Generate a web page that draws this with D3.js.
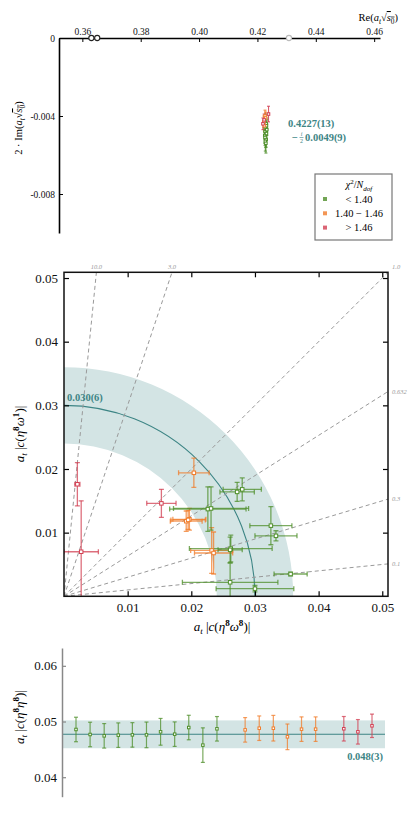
<!DOCTYPE html>
<html>
<head>
<meta charset="utf-8">
<script src="https://cdn.jsdelivr.net/npm/d3@7"></script>
<style>
body { margin: 0; background: #fff; }
svg text { font-family: "Liberation Serif", "Times New Roman", "DejaVu Serif", serif; }
</style>
</head>
<body>
<svg id="chart" width="416" height="816" font-family="Liberation Serif"></svg>
<script>
// ---- data ----
// fit quality class: 0 = chi2/Ndof < 1.40, 1 = 1.40-1.46, 2 = > 1.46
var legendLabels = ["< 1.40", "1.40 \u2212 1.46", "> 1.46"];

// top panel: pole positions a_t sqrt(s0)
var poleRe    = [0.4228, 0.4230, 0.4227, 0.4231, 0.4226, 0.4229, 0.4232, 0.4225, 0.4228, 0.4230, 0.4227, 0.4229, 0.4226, 0.4231, 0.4226, 0.4222, 0.4224, 0.4228, 0.4238, 0.4219, 0.4223];
var poleIm    = [-0.0042, -0.0044, -0.0046, -0.0045, -0.0048, -0.0049, -0.0047, -0.0050, -0.0051, -0.0052, -0.0053, -0.0054, -0.0051, -0.0049, -0.0040, -0.0043, -0.0045, -0.0041, -0.0039, -0.0044, -0.0042];
var poleReErr = [0.0002, 0.0003, 0.0002, 0.0003, 0.0003, 0.0002, 0.0003, 0.0003, 0.0002, 0.0003, 0.0003, 0.0002, 0.0003, 0.0002, 0.0002, 0.0002, 0.0003, 0.0002, 0.0003, 0.0002, 0.0002];
var poleImErr = [0.0003, 0.0003, 0.0004, 0.0003, 0.0004, 0.0004, 0.0003, 0.0004, 0.0005, 0.0004, 0.0005, 0.0005, 0.0004, 0.0003, 0.0003, 0.0003, 0.0003, 0.0003, 0.0004, 0.0003, 0.0003];
var poleClass = [0, 0, 0, 0, 0, 0, 0, 0, 0, 0, 0, 0, 0, 0, 1, 1, 1, 1, 2, 2, 2];
var axisPolesDark  = [0.3631, 0.3651];
var axisPolesLight = [0.4308];
var topTicksX = [0.36, 0.38, 0.40, 0.42, 0.44, 0.46];
var topTicksY = [0, -0.004, -0.008];

// middle panel: couplings to eta8 omega8 (x) and eta8 omega1 (y)
var cOmega8    = [0.0021, 0.0027, 0.0153, 0.0204, 0.0192, 0.0197, 0.0195, 0.0232, 0.0235, 0.0226, 0.0231, 0.0272, 0.0280, 0.0325, 0.0333, 0.0262, 0.0261, 0.0261, 0.0300, 0.0356];
var cOmega1    = [0.0176, 0.0070, 0.0146, 0.0194, 0.0118, 0.0121, 0.0120, 0.0072, 0.0068, 0.0137, 0.0138, 0.0164, 0.0168, 0.0111, 0.0095, 0.0075, 0.0073, 0.0022, 0.0012, 0.0035];
var cOmega8Err = [0.0004, 0.0027, 0.0023, 0.0024, 0.0025, 0.0026, 0.0027, 0.0033, 0.0030, 0.0060, 0.0059, 0.0027, 0.0030, 0.0033, 0.0033, 0.0065, 0.0019, 0.0075, 0.0061, 0.0026];
var cOmega1Err = [0.0034, 0.0080, 0.0022, 0.0023, 0.0016, 0.0017, 0.0015, 0.0036, 0.0033, 0.0035, 0.0034, 0.0015, 0.0018, 0.0030, 0.0008, 0.0021, 0.0020, 0.0030, 0.0005, 0.0003];
var cClass     = [2, 2, 2, 1, 1, 1, 1, 1, 1, 0, 0, 0, 0, 0, 0, 0, 0, 0, 0, 0];
var rayRatios  = [10, 3, 1, 0.632, 0.3, 0.1];
var rayLabels  = ["10.0", "3.0", "1.0", "0.632", "0.3", "0.1"];
var midTicks   = [0.01, 0.02, 0.03, 0.04, 0.05];
var radiusFit  = [0.030, 0.006];

// bottom panel: coupling to eta8 eta8, one per fit
var fitIndex   = [0, 1, 2, 3, 4, 5, 6, 7, 8, 9, 10, 12, 13, 14, 15, 16, 17, 19, 20, 21];
var cEta8      = [0.04857, 0.04767, 0.04743, 0.04755, 0.0476, 0.0476, 0.04815, 0.04773, 0.04892, 0.04576, 0.04869, 0.0485, 0.0488, 0.0488, 0.04725, 0.04863, 0.04863, 0.0487, 0.04815, 0.04923];
var cEta8Err   = [0.0022, 0.0022, 0.0022, 0.0022, 0.0022, 0.0023, 0.0024, 0.0022, 0.0022, 0.0031, 0.0022, 0.0022, 0.0022, 0.0023, 0.0023, 0.0022, 0.0022, 0.0022, 0.0022, 0.0021];
var cEta8Class = [0, 0, 0, 0, 0, 0, 0, 0, 0, 0, 0, 1, 1, 1, 1, 1, 1, 2, 2, 2];
var bottomTicks = [0.04, 0.05, 0.06];
var etaFit     = [0.0477, 0.0025];

// ---- styles ----
var fitColors = ["#4f8f2b", "#f07c2a", "#d23f52"];
var teal = "#3d8585";
var bandFill = "#d3e4e4";
var serif = "Liberation Serif";

var svg = d3.select("#chart");

// small helper for labels with sub/superscripts
function mathText(sel, parts, size) {
    var shift = 0;
    parts.forEach(function (p) {
        var s = p.sub ? size * 0.25 : (p.sup ? -size * 0.38 : 0);
        var ts = sel.append("tspan").text(p.t).attr("dy", s - shift);
        if (p.sub || p.sup) ts.attr("font-size", size * 0.7);
        if (p.i) ts.attr("font-style", "italic");
        if (p.b) ts.attr("font-weight", "bold");
        if (p.o) ts.style("text-decoration", "overline");
        shift = s;
    });
}

function drawErrors(g, pts, xs, ys, cap, opts) {
    var pg = g.selectAll("g.pt").data(pts).enter().append("g")
        .attr("stroke", function (d) { return fitColors[d.c]; })
        .attr("stroke-width", opts.width)
        .attr("stroke-opacity", opts.opacity)
        .attr("fill", "none");
    pg.filter(function (d) { return d.ex > 0; }).each(function (d) {
        var e = d3.select(this);
        var x0 = xs(d.x - d.ex), x1 = xs(d.x + d.ex), yy = ys(d.y);
        e.append("line").attr("x1", x0).attr("x2", x1).attr("y1", yy).attr("y2", yy);
        e.append("line").attr("x1", x0).attr("x2", x0).attr("y1", yy - cap).attr("y2", yy + cap);
        e.append("line").attr("x1", x1).attr("x2", x1).attr("y1", yy - cap).attr("y2", yy + cap);
    });
    pg.each(function (d) {
        var e = d3.select(this);
        var y0 = ys(d.y - d.ey), y1 = ys(d.y + d.ey), xx = xs(d.x);
        e.append("line").attr("x1", xx).attr("x2", xx).attr("y1", y0).attr("y2", y1);
        e.append("line").attr("x1", xx - cap).attr("x2", xx + cap).attr("y1", y0).attr("y2", y0);
        e.append("line").attr("x1", xx - cap).attr("x2", xx + cap).attr("y1", y1).attr("y2", y1);
    });
    g.selectAll("rect.mk").data(pts).enter().append("rect")
        .attr("x", function (d) { return xs(d.x) - opts.mk / 2; })
        .attr("y", function (d) { return ys(d.y) - opts.mk / 2; })
        .attr("width", opts.mk).attr("height", opts.mk)
        .attr("fill", "#fff")
        .attr("stroke", function (d) { return fitColors[d.c]; })
        .attr("stroke-width", 1);
}

function styleAxis(g, size) {
    g.attr("font-family", serif).attr("font-size", size);
    g.selectAll("text").attr("font-family", serif).attr("fill", "#111");
}

// ================= top panel =================
var xTop = d3.scaleLinear().domain([0.352, 0.462]).range([59, 380]);
var yTop = d3.scaleLinear().domain([-0.010, 0]).range([233, 38]);

var gTopX = svg.append("g").attr("transform", "translate(0," + yTop(0) + ")")
    .call(d3.axisTop(xTop).tickValues(topTicksX).tickSize(-4).tickSizeOuter(0).tickPadding(3)
        .tickFormat(d3.format(".2f")));
var gTopY = svg.append("g").attr("transform", "translate(" + xTop.range()[0] + ",0)")
    .call(d3.axisLeft(yTop).tickValues(topTicksY).tickSize(-4).tickSizeOuter(0).tickPadding(4)
        .tickFormat(function (d) { return d === 0 ? "0" : d.toFixed(3); }));
[gTopX, gTopY].forEach(function (g) {
    styleAxis(g, 9.5);
    g.select(".domain").attr("stroke-width", 1.6);
    g.selectAll(".tick line").attr("stroke-width", 1);
});

svg.append("text").attr("x", 398).attr("y", 21).attr("text-anchor", "end").attr("font-size", 10.5)
    .call(mathText, [{ t: "Re(" }, { t: "a", i: 1 }, { t: "t", i: 1, sub: 1 }, { t: "\u221A" },
        { t: "s", i: 1, o: 1 }, { t: "0", sub: 1, o: 1 }, { t: ")" }], 10.5);
svg.append("text").attr("transform", "translate(22,128) rotate(-90)").attr("text-anchor", "middle")
    .attr("font-size", 10.5)
    .call(mathText, [{ t: "2 \u00B7 Im(" }, { t: "a", i: 1 }, { t: "t", i: 1, sub: 1 }, { t: "\u221A" },
        { t: "s", i: 1, o: 1 }, { t: "0", sub: 1, o: 1 }, { t: ")" }], 10.5);

// poles sitting on the real axis
svg.selectAll("circle.axpole").data(axisPolesDark).enter().append("circle")
    .attr("cx", function (d) { return xTop(d); }).attr("cy", yTop(0)).attr("r", 2.6)
    .attr("fill", "#fff").attr("stroke", "#222").attr("stroke-width", 1.1);
svg.selectAll("circle.axpole2").data(axisPolesLight).enter().append("circle")
    .attr("cx", function (d) { return xTop(d); }).attr("cy", yTop(0)).attr("r", 2.6)
    .attr("fill", "#fff").attr("stroke", "#bbb").attr("stroke-width", 1.1);

var polePts = poleRe.map(function (v, i) {
    return { x: v, y: poleIm[i], ex: poleReErr[i], ey: poleImErr[i], c: poleClass[i] };
});
drawErrors(svg.append("g"), polePts, xTop, yTop, 1.5, { width: 1.1, opacity: 0.85, mk: 2.5 });

svg.append("text").attr("x", 288).attr("y", 127).attr("fill", teal).attr("font-weight", "bold")
    .attr("font-size", 10.5).text("0.4227(13)");
svg.append("text").attr("x", 292).attr("y", 141).attr("fill", teal).attr("font-weight", "bold")
    .attr("font-size", 10.5).text("\u2212");
svg.append("text").attr("x", 301.5).attr("y", 136).attr("fill", teal).attr("font-size", 6)
    .attr("text-anchor", "middle").attr("font-style", "italic").text("i");
svg.append("line").attr("x1", 299.5).attr("x2", 303.5).attr("y1", 137.5).attr("y2", 137.5)
    .attr("stroke", teal).attr("stroke-width", 0.6);
svg.append("text").attr("x", 301.5).attr("y", 143).attr("fill", teal).attr("font-size", 6)
    .attr("text-anchor", "middle").text("2");
svg.append("text").attr("x", 305).attr("y", 141).attr("fill", teal).attr("font-weight", "bold")
    .attr("font-size", 10.5).text("0.0049(9)");

// legend
var lg = svg.append("g");
lg.append("rect").attr("x", 315).attr("y", 174).attr("width", 77).attr("height", 66)
    .attr("fill", "#fff").attr("stroke", "#777").attr("stroke-width", 1.2);
lg.append("text").attr("x", 359).attr("y", 188).attr("text-anchor", "middle").attr("font-size", 10)
    .call(mathText, [{ t: "\u03C7", i: 1 }, { t: "2", sup: 1 }, { t: "/" }, { t: "N", i: 1 },
        { t: "dof", i: 1, sub: 1 }], 10);
legendLabels.forEach(function (lab, i) {
    var yy = 199 + i * 14.3;
    lg.append("rect").attr("x", 323).attr("y", yy - 2).attr("width", 4).attr("height", 4)
        .attr("fill", fitColors[i]).attr("fill-opacity", 0.8);
    lg.append("text").attr("x", 359).attr("y", yy + 3.5).attr("text-anchor", "middle")
        .attr("font-size", 10.5).text(lab);
});

// ================= middle panel =================
var xMid = d3.scaleLinear().domain([0, 0.0509]).range([64, 388]);
var yMid = d3.scaleLinear().domain([0, 0.0509]).range([596.3, 272.3]);

svg.append("clipPath").attr("id", "midclip").append("rect")
    .attr("x", 64).attr("y", 272.3).attr("width", 324).attr("height", 324);
var gMid = svg.append("g").attr("clip-path", "url(#midclip)");

var ox = xMid(0), oy = yMid(0), pxPer = xMid(1) - xMid(0);
gMid.append("path").attr("transform", "translate(" + ox + "," + oy + ")")
    .attr("d", d3.arc()({ innerRadius: (radiusFit[0] - radiusFit[1]) * pxPer,
        outerRadius: (radiusFit[0] + radiusFit[1]) * pxPer, startAngle: 0, endAngle: Math.PI / 2 }))
    .attr("fill", bandFill);
gMid.append("path").attr("transform", "translate(" + ox + "," + oy + ")")
    .attr("d", d3.arc()({ innerRadius: radiusFit[0] * pxPer, outerRadius: radiusFit[0] * pxPer,
        startAngle: 0, endAngle: Math.PI / 2 }))
    .attr("fill", "none").attr("stroke", teal).attr("stroke-width", 1.1);

var xMax = xMid.domain()[1], yMax = yMid.domain()[1];
rayRatios.forEach(function (r, i) {
    var ex = r >= 1 ? yMax / r : xMax, ey = r >= 1 ? yMax : xMax * r;
    gMid.append("line").attr("x1", xMid(0)).attr("y1", yMid(0)).attr("x2", xMid(ex)).attr("y2", yMid(ey))
        .attr("stroke", "#999").attr("stroke-width", 1).attr("stroke-dasharray", "4,3");
    var t = svg.append("text").attr("font-size", 6.5).attr("font-style", "italic").attr("fill", "#999")
        .text(rayLabels[i]);
    if (r > 1) t.attr("x", xMid(ex)).attr("y", yMid(yMax) - 3).attr("text-anchor", "middle");
    else if (r === 1) t.attr("x", xMid(ex) + 4).attr("y", yMid(yMax) - 3);
    else t.attr("x", xMid(xMax) + 4).attr("y", yMid(ey) + 2);
});

var midPts = cOmega8.map(function (v, i) {
    return { x: v, y: cOmega1[i], ex: cOmega8Err[i], ey: cOmega1Err[i], c: cClass[i] };
});
drawErrors(gMid, midPts, xMid, yMid, 2.5, { width: 1.3, opacity: 0.75, mk: 3.5 });

gMid.append("text").attr("x", 67).attr("y", yMid(radiusFit[0]) - 4).attr("fill", teal)
    .attr("font-weight", "bold").attr("font-size", 10.5).text("0.030(6)");

var fmt2 = d3.format(".2f");
var axB = svg.append("g").attr("transform", "translate(0," + yMid(0) + ")")
    .call(d3.axisBottom(xMid).tickValues(midTicks).tickSize(-5).tickPadding(6).tickFormat(fmt2));
var axT = svg.append("g").attr("transform", "translate(0," + yMid(yMax) + ")")
    .call(d3.axisTop(xMid).tickValues(midTicks).tickSize(-5).tickFormat(""));
var axL = svg.append("g").attr("transform", "translate(" + xMid(0) + ",0)")
    .call(d3.axisLeft(yMid).tickValues(midTicks).tickSize(-5).tickPadding(6).tickFormat(fmt2));
var axR = svg.append("g").attr("transform", "translate(" + xMid(xMax) + ",0)")
    .call(d3.axisRight(yMid).tickValues(midTicks).tickSize(-5).tickFormat(""));
[axB, axT, axL, axR].forEach(function (g) {
    styleAxis(g, 13);
    g.select(".domain").remove();
    g.selectAll(".tick line").attr("stroke-width", 1.2);
});
svg.append("rect").attr("x", 64).attr("y", 272.3).attr("width", 324).attr("height", 324)
    .attr("fill", "none").attr("stroke", "#111").attr("stroke-width", 1.5);

svg.append("text").attr("x", 222).attr("y", 631).attr("text-anchor", "middle").attr("font-size", 13)
    .call(mathText, [{ t: "a", i: 1 }, { t: "t", i: 1, sub: 1 }, { t: " |" }, { t: "c", i: 1 }, { t: "(" },
        { t: "\u03B7", i: 1 }, { t: "8", sup: 1, b: 1 }, { t: "\u03C9", i: 1 }, { t: "8", sup: 1, b: 1 },
        { t: ")|" }], 13);
svg.append("text").attr("transform", "translate(24,434) rotate(-90)").attr("text-anchor", "middle")
    .attr("font-size", 13)
    .call(mathText, [{ t: "a", i: 1 }, { t: "t", i: 1, sub: 1 }, { t: " |" }, { t: "c", i: 1 }, { t: "(" },
        { t: "\u03B7", i: 1 }, { t: "8", sup: 1, b: 1 }, { t: "\u03C9", i: 1 }, { t: "1", sup: 1, b: 1 },
        { t: ")|" }], 13);

// ================= bottom panel =================
var xBot = d3.scaleLinear().domain([0, 21]).range([76, 372]);
var yBot = d3.scaleLinear().domain([0.0365, 0.0632]).range([796.7, 648]);

svg.append("rect").attr("x", 62).attr("width", 323)
    .attr("y", yBot(etaFit[0] + etaFit[1])).attr("height", yBot(etaFit[0] - etaFit[1]) - yBot(etaFit[0] + etaFit[1]))
    .attr("fill", bandFill);
svg.append("line").attr("x1", 62).attr("x2", 385).attr("y1", yBot(etaFit[0])).attr("y2", yBot(etaFit[0]))
    .attr("stroke", teal).attr("stroke-width", 1.1);
svg.append("text").attr("x", 383).attr("y", yBot(etaFit[0] - etaFit[1]) + 12).attr("text-anchor", "end")
    .attr("fill", teal).attr("font-weight", "bold").attr("font-size", 10.5).text("0.048(3)");

var botPts = fitIndex.map(function (v, i) {
    return { x: v, y: cEta8[i], ex: 0, ey: cEta8Err[i], c: cEta8Class[i] };
});
drawErrors(svg.append("g"), botPts, xBot, yBot, 2, { width: 1.2, opacity: 0.75, mk: 2.5 });

var axBot = svg.append("g").attr("transform", "translate(62,0)")
    .call(d3.axisLeft(yBot).tickValues(bottomTicks).tickSize(-4).tickSizeOuter(0).tickPadding(5)
        .tickFormat(fmt2));
styleAxis(axBot, 13);
axBot.select(".domain").attr("stroke", "#888").attr("stroke-width", 1.5);
axBot.selectAll(".tick line").attr("stroke", "#888").attr("stroke-width", 1.2);

svg.append("text").attr("transform", "translate(24,717) rotate(-90)").attr("text-anchor", "middle")
    .attr("font-size", 13)
    .call(mathText, [{ t: "a", i: 1 }, { t: "t", i: 1, sub: 1 }, { t: " |" }, { t: "c", i: 1 }, { t: "(" },
        { t: "\u03B7", i: 1 }, { t: "8", sup: 1, b: 1 }, { t: "\u03B7", i: 1 }, { t: "8", sup: 1, b: 1 },
        { t: ")|" }], 13);
</script>
</body>
</html>
